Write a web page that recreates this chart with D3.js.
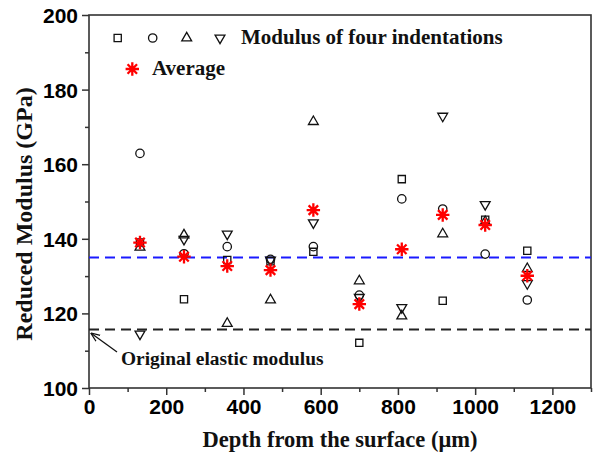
<!DOCTYPE html>
<html lang="en">
<head>
<meta charset="utf-8">
<title>Reduced modulus vs depth</title>
<script src="https://d3js.org/d3.v7.min.js"></script>
<style>
  body { margin: 0; background: #fff; }
  .tick text { font-family: "Liberation Sans", Arial, sans-serif; font-weight: bold; font-size: 21px; fill: #000; }
  .ttl { font-family: "Liberation Serif", "Times New Roman", serif; font-weight: bold; fill: #111; }
</style>
</head>
<body>
<svg></svg>
<script>
// depth of each indentation row (um)
var depth = [132, 246, 358, 470, 581, 700, 810, 916, 1026, 1135];
// the four indentations (GPa)
var ind1 = [139.0, 123.8, 134.3, 134.0, 136.5, 112.1, 156.0, 123.4, 145.1, 136.8]; // square
var ind2 = [162.9, 136.0, 137.9, 134.5, 137.9, 124.9, 150.7, 148.0, 135.9, 123.6]; // circle
var ind3 = [137.7, 141.0, 117.3, 123.6, 171.4, 128.7, 119.3, 141.3, 144.6, 132.0]; // triangle
var ind4 = [114.5, 139.9, 141.3, 134.3, 144.3, 124.3, 121.6, 172.9, 149.2, 128.0]; // down triangle
var average = [139.0, 135.2, 132.7, 131.6, 147.7, 122.5, 137.2, 146.4, 143.7, 130.1];
var avgLine = 135;       // blue dashed
var originalModulus = 115.7; // black dashed
var xTicks = [0, 200, 400, 600, 800, 1000, 1200];
var yTicks = [100, 120, 140, 160, 180, 200];

var w = 593, h = 458;
var svg = d3.select("svg").attr("width", w).attr("height", h);

var x = d3.scaleLinear().domain([0, 1300]).range([89, 591]);
var y = d3.scaleLinear().domain([100, 200]).range([388, 15]);

// minor ticks first
svg.append("g").attr("transform", "translate(0,388)")
   .call(d3.axisBottom(x).tickValues(d3.range(100, 1301, 200)).tickSize(4).tickFormat(""))
   .call(g => g.select(".domain").remove());
svg.append("g").attr("transform", "translate(89,0)")
   .call(d3.axisLeft(y).tickValues(d3.range(110, 200, 20)).tickSize(4).tickFormat(""))
   .call(g => g.select(".domain").remove());

var xAxis = svg.append("g").attr("transform", "translate(0,388)")
   .call(d3.axisBottom(x).tickValues(xTicks).tickSize(7).tickPadding(4).tickFormat(d3.format("d")));
xAxis.select(".domain").remove();

var yAxis = svg.append("g").attr("transform", "translate(89,0)")
   .call(d3.axisLeft(y).tickValues(yTicks).tickSize(7).tickPadding(4));
yAxis.select(".domain").remove();
yAxis.selectAll(".tick text").attr("dy", "0.36em");

svg.selectAll(".tick line").attr("stroke", "#333").attr("stroke-width", 1.5);

// frame
svg.append("rect")
   .attr("x", x(0)).attr("y", y(200))
   .attr("width", x(1300) - x(0)).attr("height", y(100) - y(200))
   .attr("fill", "none").attr("stroke", "#333").attr("stroke-width", 1.6);

// reference lines
svg.append("line")
   .attr("x1", x(0)).attr("x2", x(1300))
   .attr("y1", y(avgLine)).attr("y2", y(avgLine))
   .attr("stroke", "#1a1aff").attr("stroke-width", 2).attr("stroke-dasharray", "10,6");
svg.append("line")
   .attr("x1", x(0)).attr("x2", x(1300))
   .attr("y1", y(originalModulus)).attr("y2", y(originalModulus))
   .attr("stroke", "#222").attr("stroke-width", 2).attr("stroke-dasharray", "10,6");

// asterisk with four strokes
var asterisk = {
  draw: function(ctx, size) {
    var r = Math.sqrt(size) / 2;
    for (var k = 0; k < 4; k++) {
      var a = k * Math.PI / 4;
      ctx.moveTo(-r * Math.cos(a), -r * Math.sin(a));
      ctx.lineTo(r * Math.cos(a), r * Math.sin(a));
    }
  }
};

var shapes = [
  {vals: ind1, type: d3.symbolSquare, size: 52, rot: 0},
  {vals: ind2, type: d3.symbolCircle, size: 55, rot: 0},
  {vals: ind3, type: d3.symbolTriangle, size: 42, rot: 0},
  {vals: ind4, type: d3.symbolTriangle, size: 42, rot: 180}
];

shapes.forEach(function(s) {
  svg.append("g").selectAll("path")
     .data(depth.map((d, i) => [d, s.vals[i]]))
     .enter().append("path")
     .attr("d", d3.symbol().type(s.type).size(s.size))
     .attr("transform", d => "translate(" + x(d[0]) + "," + y(d[1]) + ") rotate(" + s.rot + ")")
     .attr("fill", "none").attr("stroke", "#111").attr("stroke-width", 1.3);
});

svg.append("g").selectAll("path")
   .data(depth.map((d, i) => [d, average[i]]))
   .enter().append("path")
   .attr("d", d3.symbol().type(asterisk).size(180))
   .attr("transform", d => "translate(" + x(d[0]) + "," + y(d[1]) + ")")
   .attr("fill", "none").attr("stroke", "#ff0000").attr("stroke-width", 2.3);

// legend
var legX = [117.7, 152.7, 186.7, 220];
shapes.forEach(function(s, i) {
  svg.append("path")
     .attr("d", d3.symbol().type(s.type).size(s.size)())
     .attr("transform", "translate(" + legX[i] + ",38) rotate(" + s.rot + ")")
     .attr("fill", "none").attr("stroke", "#111").attr("stroke-width", 1.3);
});
svg.append("text").attr("class", "ttl").attr("x", 241).attr("y", 44)
   .style("font-size", "21px").text("Modulus of four indentations");
svg.append("path")
   .attr("d", d3.symbol().type(asterisk).size(180)())
   .attr("transform", "translate(132.3,69)")
   .attr("fill", "none").attr("stroke", "#ff0000").attr("stroke-width", 2.3);
svg.append("text").attr("class", "ttl").attr("x", 152).attr("y", 75)
   .style("font-size", "21px").text("Average");

// annotation
svg.append("defs").append("marker")
   .attr("id", "arr").attr("viewBox", "0 0 10 10").attr("refX", 9).attr("refY", 5)
   .attr("markerWidth", 7).attr("markerHeight", 7).attr("orient", "auto")
   .append("path").attr("d", "M0,1 L10,5 L0,9").attr("fill", "none").attr("stroke", "#111").attr("stroke-width", 1.4);
svg.append("line")
   .attr("x1", 117).attr("y1", 352).attr("x2", 91.5).attr("y2", 333.5)
   .attr("stroke", "#111").attr("stroke-width", 1.3).attr("marker-end", "url(#arr)");
svg.append("text").attr("class", "ttl").attr("x", 121).attr("y", 365)
   .style("font-size", "19.4px").text("Original elastic modulus");

// axis titles
svg.append("text").attr("class", "ttl").attr("x", 340).attr("y", 447)
   .attr("text-anchor", "middle").style("font-size", "22.5px")
   .text("Depth from the surface (\u03bcm)");
svg.append("text").attr("class", "ttl")
   .attr("transform", "translate(32,214) rotate(-90)")
   .attr("text-anchor", "middle").style("font-size", "24px")
   .text("Reduced Modulus (GPa)");
</script>
</body>
</html>
